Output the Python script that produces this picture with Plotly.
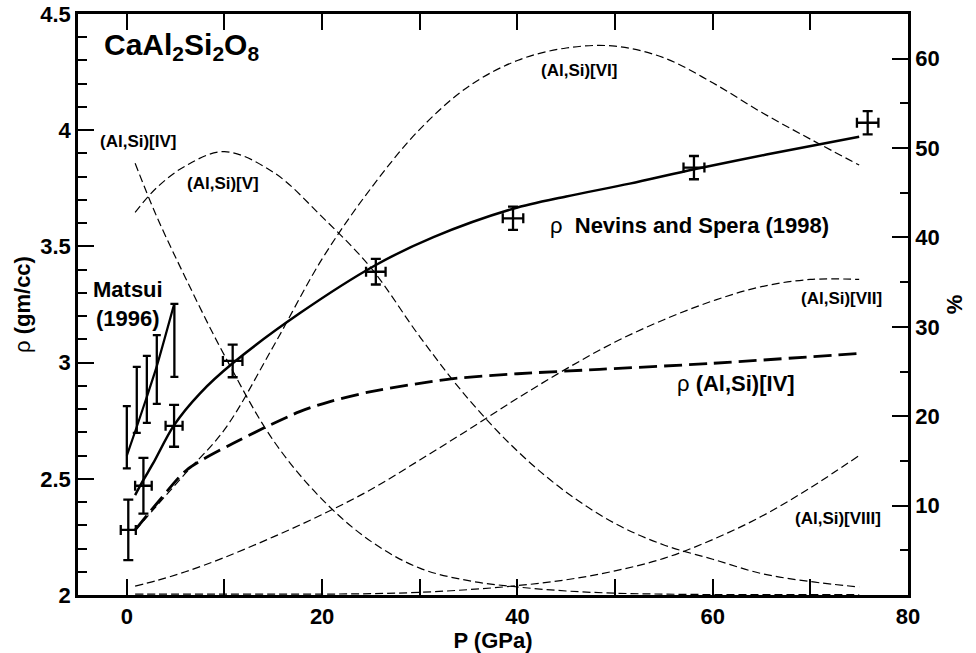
import plotly.graph_objects as go

# --- Coordination populations (% of Al,Si) vs pressure, right axis ---
P_PCT = [0.85, 3, 6, 10, 15, 20, 25, 30, 35, 40, 45, 50, 55, 60, 65, 70, 75]
IV_PCT = [48.3, 42.5, 35.5, 26.8, 17.3, 10.7, 6.0, 3.0, 1.6, 0.9, 0.45, 0.2, 0.1, 0.05, 0.05, 0.05, 0.05]
V_PCT = [42.8, 45.5, 48.0, 49.6, 47.3, 42.3, 36.6, 28.9, 21.9, 16.1, 11.5, 8.0, 5.6, 4.0, 2.4, 1.5, 0.9]
VI_PCT = [7.2, 9.9, 13.6, 18.5, 27.8, 37.6, 45.5, 52.1, 56.9, 59.8, 61.2, 61.4, 60.1, 57.3, 54.0, 51.0, 48.1]
VII_PCT = [1.0, 1.6, 2.6, 4.2, 6.5, 9.0, 11.8, 15.1, 18.5, 22.0, 25.3, 28.3, 30.8, 32.9, 34.5, 35.3, 35.3]
VIII_PCT = [0.1, 0.1, 0.1, 0.1, 0.1, 0.1, 0.15, 0.3, 0.6, 1.05, 1.7, 2.7, 4.1, 6.2, 8.8, 12.0, 15.6]

# --- Density fit, Nevins and Spera (1998) ---
P_FIT = [0.85, 1.7, 2.7, 4.84, 7.5, 10.84, 17.7, 25.5, 31.4, 39.55, 45, 51.5, 58.1, 65.5, 75.0]
RHO_FIT = [2.43, 2.495, 2.567, 2.731, 2.868, 2.997, 3.212, 3.42, 3.54, 3.662, 3.715, 3.77, 3.832, 3.895, 3.972]

# --- Density of the (Al,Si)[IV] component ---
P_R4 = [0.86, 3.4, 6.13, 10.9, 17.7, 20.8, 25, 33.2, 40, 48.4, 60, 75.1]
RHO_R4 = [2.28, 2.41, 2.538, 2.653, 2.789, 2.832, 2.875, 2.93, 2.952, 2.971, 2.997, 3.04]

# --- Simulation densities with uncertainties ---
NS_P = [0.15, 1.7, 4.84, 10.84, 25.5, 39.55, 58.08, 75.87]
NS_RHO = [2.28, 2.47, 2.728, 3.007, 3.391, 3.621, 3.839, 4.032]
NS_DP = [0.77, 0.85, 0.87, 1.0, 1.0, 1.05, 1.07, 1.1]
NS_DRHO = [0.13, 0.12, 0.09, 0.07, 0.055, 0.05, 0.05, 0.05]

# --- Matsui (1996) densities and trend ---
M_P = [0.0, 1.02, 2.05, 3.07, 4.87]
M_RHO = [2.679, 2.84, 2.885, 2.97, 3.096]
M_DRHO = [0.134, 0.142, 0.144, 0.148, 0.157]
M_FIT_RHO = [2.60, 2.724, 2.853, 2.985, 3.255]

FONT = "Liberation Sans, Arial, Helvetica, sans-serif"
BLACK = "black"

fig = go.Figure()

thin = dict(color=BLACK, width=1.2, dash="8px,4px", shape="spline", smoothing=1.0)
for series in (IV_PCT, V_PCT, VI_PCT, VII_PCT, VIII_PCT):
    fig.add_trace(go.Scatter(x=P_PCT, y=series, mode="lines", line=thin,
                             yaxis="y2", showlegend=False, hoverinfo="skip"))

fig.add_trace(go.Scatter(x=P_R4, y=RHO_R4, mode="lines",
                         line=dict(color=BLACK, width=2.8, dash="18px,7px",
                                   shape="spline", smoothing=0.8),
                         showlegend=False))
fig.add_trace(go.Scatter(x=P_FIT, y=RHO_FIT, mode="lines",
                         line=dict(color=BLACK, width=2.5, shape="spline", smoothing=0.9),
                         showlegend=False))
fig.add_trace(go.Scatter(x=M_P, y=M_FIT_RHO, mode="lines",
                         line=dict(color=BLACK, width=2.2, shape="spline", smoothing=0.6),
                         showlegend=False))

fig.add_trace(go.Scatter(
    x=M_P, y=M_RHO, mode="markers",
    marker=dict(size=1, color="rgba(0,0,0,0)"),
    error_y=dict(type="data", array=M_DRHO, color=BLACK, thickness=2.3, width=4),
    showlegend=False))

fig.add_trace(go.Scatter(
    x=NS_P, y=NS_RHO, mode="markers",
    marker=dict(size=1, color="rgba(0,0,0,0)"),
    error_y=dict(type="data", array=NS_DRHO, color=BLACK, thickness=2.3, width=5),
    error_x=dict(type="data", array=NS_DP, color=BLACK, thickness=2.3, width=5),
    showlegend=False))

bold = dict(family=FONT, size=22, color=BLACK, weight="bold")
small = dict(family=FONT, size=17, color=BLACK, weight="bold")

annotations = [
    dict(x=-2.56, y=4.36, text="CaAl<sub>2</sub>Si<sub>2</sub>O<sub>8</sub>",
         xanchor="left", yanchor="middle",
         font=dict(family=FONT, size=30, color=BLACK, weight="bold")),
    dict(x=1.19, y=3.951, text="(Al,Si)[IV]", font=small),
    dict(x=9.88, y=3.772, text="(Al,Si)[V]", font=small),
    dict(x=46.37, y=4.259, text="(Al,Si)[VI]", font=small),
    dict(x=73.23, y=3.277, text="(Al,Si)[VII]", font=small),
    dict(x=72.8, y=2.33, text="(Al,Si)[VIII]", font=small),
    dict(x=57.6, y=3.592, text="ρ  <b>Nevins and Spera (1998)</b>",
         font=dict(family=FONT, size=22, color=BLACK)),
    dict(x=62.4, y=2.911, text="ρ <b>(Al,Si)[IV]</b>",
         font=dict(family=FONT, size=22, color=BLACK)),
    dict(x=0.16, y=3.252, text="Matsui<br>(1996)", font=bold),
]
for a in annotations:
    a.setdefault("xanchor", "center")
    a.setdefault("yanchor", "middle")
    a.update(xref="x", yref="y", showarrow=False)

axis_common = dict(
    showline=True, linecolor=BLACK, linewidth=2.5,
    ticks="inside", tickcolor=BLACK, tickwidth=1.5,
    tickfont=bold, showgrid=False, zeroline=False,
)

fig.update_layout(
    width=976, height=653,
    margin=dict(l=78, r=68, t=14, b=58, autoexpand=False),
    paper_bgcolor="white", plot_bgcolor="white",
    showlegend=False,
    annotations=annotations,
    xaxis=dict(
        range=[-5, 80], tick0=0, dtick=20, ticklen=16, mirror="allticks",
        minor=dict(dtick=10, tick0=0, ticks="inside", ticklen=8,
                   tickwidth=1.5, tickcolor=BLACK),
        title=dict(text="P (GPa)", font=bold, standoff=6),
        **axis_common,
    ),
    yaxis=dict(
        range=[2, 4.5], tick0=2, dtick=0.5, ticklen=16,
        minor=dict(dtick=0.1, tick0=2, ticks="inside", ticklen=9,
                   tickwidth=1.5, tickcolor=BLACK),
        title=dict(text="ρ <b>(gm/cc)</b>",
                   font=dict(family=FONT, size=22, color=BLACK), standoff=4),
        **axis_common,
    ),
    yaxis2=dict(
        overlaying="y", side="right", range=[0, 65],
        tickmode="array", tickvals=[10, 20, 30, 40, 50, 60], ticklen=16,
        minor=dict(tickmode="array", tickvals=[5, 15, 25, 35, 45, 55],
                   ticks="inside", ticklen=8, tickwidth=1.5, tickcolor=BLACK),
        title=dict(text="%", font=bold, standoff=8),
        **axis_common,
    ),
)

fig.write_html("out.html")
